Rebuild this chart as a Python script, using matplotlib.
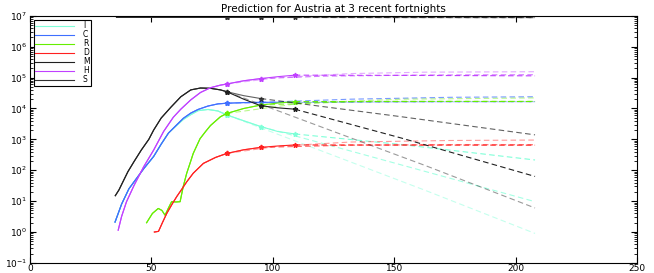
import numpy as np
import matplotlib
matplotlib.use('Agg')
import matplotlib.pyplot as plt

plt.rcParams['font.family'] = ['DejaVu Sans']

# fortnight ends of the three fits
fortnights = [81, 95, 109]
fit_alpha = [0.45, 0.7, 1.0]

# I - infected
i_days = [35.0, 37.7, 40.7, 42.8, 46.8, 50.9, 54.0, 57.0, 60.1, 63.1, 66.2, 69.2, 73.3, 77.4, 81, 88, 95, 102, 109]
i_vals = [2.1, 8, 25, 42, 112, 280, 700, 1600, 2700, 4400, 6300, 8500, 9300, 8300, 6200, 4000, 2600, 1800, 1500]
i_pred = [([81, 122, 163, 208], [6200, 370, 22, 0.9]),
          ([95, 132, 173, 208], [2600, 420, 55, 9.6]),
          ([109, 153, 208], [1500, 680, 215])]

# C
c_days = [35.0, 37.7, 40.7, 42.8, 46.8, 50.9, 54.0, 57.0, 60.1, 63.1, 66.2, 69.2, 73.3, 77.4, 81, 88, 95, 102, 109]
c_vals = [2.1, 8, 25, 42, 112, 280, 700, 1600, 2800, 4800, 7100, 9300, 12000, 14100, 14800, 15500, 15800, 15900, 15900]
c_pred = [([81, 122, 163, 208], [14800, 16000, 16500, 16600]),
          ([95, 132, 173, 208], [15800, 20000, 23000, 24000]),
          ([109, 153, 208], [15900, 16500, 16700])]

# R
r_days = [48.0, 50.4, 52.8, 54.3, 55.6, 57.0, 58.3, 60.1, 61.8, 63.1, 64.5, 66.2, 67.2, 70.0, 72.3, 74.3, 78.4, 81, 88, 95, 102, 109]
r_vals = [2, 4, 5.8, 5, 3.5, 6, 9.6, 9.4, 9.6, 30, 79, 200, 350, 1050, 1800, 2800, 5400, 6900, 10000, 12900, 15000, 16600]
r_pred = [([81, 112, 153, 208], [6900, 15000, 20000, 22000]),
          ([95, 132, 173, 208], [12900, 16500, 17000, 17000]),
          ([109, 153, 208], [16600, 17000, 16800])]

# D
d_days = [51.2, 52.9, 54.5, 56.3, 58.5, 60.4, 62.6, 64.5, 67.2, 71.4, 76.4, 81, 88, 95, 102, 109]
d_vals = [1, 1.05, 2, 4, 8, 14, 25, 42, 80, 167, 260, 350, 460, 550, 610, 660]
d_pred = [([81, 102, 132, 173, 208], [350, 600, 820, 920, 950]),
          ([95, 132, 173, 208], [550, 650, 670, 670]),
          ([109, 153, 208], [660, 655, 650])]

# M
m_days = [35.1, 36.6, 38.7, 40.3, 42.8, 45.8, 48.9, 50.9, 54.0, 58.0, 62.1, 66.2, 70.2, 74.3, 78.4, 81, 88, 95, 102, 109]
m_vals = [15, 23, 50, 90, 190, 450, 1000, 2000, 4900, 11000, 24000, 40000, 46000, 45000, 40000, 35000, 20000, 12300, 10500, 9500]
m_fit2_days = [81, 88, 95]
m_fit2_vals = [35000, 26000, 21000]
m_pred = [([81, 122, 163, 208], [35000, 2200, 140, 6]),
          ([95, 153, 208], [21000, 5400, 1400]),
          ([109, 153, 208], [9500, 1100, 63])]

# H
h_days = [36.3, 37.7, 39.7, 42.8, 46.8, 50.9, 55.0, 59.0, 62.1, 66.2, 70.2, 74.3, 78.4, 81, 88, 95, 102, 109]
h_vals = [1.15, 3.2, 9.5, 32, 130, 450, 1800, 5200, 9500, 19000, 33000, 47000, 57000, 62000, 79000, 93000, 107000, 120000]
h_pred = [([81, 102, 132, 163, 208], [62000, 100000, 135000, 150000, 155000]),
          ([95, 122, 163, 208], [93000, 112000, 121000, 124000]),
          ([109, 153, 208], [120000, 118000, 114000])]

# S
s_days = [35.6, 61, 81, 95, 109]
s_vals = [8.9e6, 8.9e6, 8.88e6, 8.86e6, 8.85e6]
s_pred = [([81, 208], [8.88e6, 8.75e6]),
          ([95, 208], [8.86e6, 8.78e6]),
          ([109, 208], [8.85e6, 8.8e6])]

series = [
    ('I', '#7fffd8', i_days, i_vals, i_pred),
    ('C', '#3f6fff', c_days, c_vals, c_pred),
    ('R', '#66ee00', r_days, r_vals, r_pred),
    ('D', '#ff2020', d_days, d_vals, d_pred),
    ('M', '#202020', m_days, m_vals, m_pred),
    ('H', '#c040ff', h_days, h_vals, h_pred),
    ('S', '#303030', s_days, s_vals, s_pred),
]

fig = plt.figure(figsize=(6.54, 2.73), dpi=100)
ax = fig.add_axes([0.046, 0.037, 0.928, 0.905])
ax.set_yscale('log')

handles = []
for name, col, days, vals, pred in series:
    days = np.array(days)
    vals = np.array(vals)
    for k, end in enumerate(fortnights):
        a = fit_alpha[k]
        keep = days <= end
        xs, ys = days[keep], vals[keep]
        if name == 'M' and k == 1:
            keep = days <= fortnights[0]
            xs = np.concatenate([days[keep], m_fit2_days[1:]])
            ys = np.concatenate([vals[keep], m_fit2_vals[1:]])
        line, = ax.plot(xs, ys, color=col, lw=0.8, alpha=a)
        mk = np.isin(xs, fortnights)
        ax.plot(xs[mk], ys[mk], '*', color=col, ms=3.5, alpha=a)
        ax.plot(pred[k][0], pred[k][1], color=col, lw=0.8, alpha=a,
                linestyle=(0, (5, 3)))
        if k == 2:
            handles.append(line)

ax.set_xlim(0, 250)
ax.set_ylim(1e-1, 1e7)
ax.set_xticks([0, 50, 100, 150, 200, 250])
ax.set_yticks([10.0 ** p for p in range(-1, 8)])
ax.tick_params(which='both', direction='in', top=True, right=True, labelsize=6.5)
ax.tick_params(which='major', length=4)
ax.tick_params(which='minor', length=2)
ax.tick_params(axis='x', which='minor', bottom=False, top=False)
ax.tick_params(axis='x', which='major', pad=1)
ax.tick_params(axis='y', which='major', pad=2)
for sp in ax.spines.values():
    sp.set_linewidth(0.8)

ax.set_title('Prediction for Austria at 3 recent fortnights', fontsize=7.5, pad=3)

leg = ax.legend(handles, [s[0] for s in series], loc='upper left', fontsize=5.5,
                labelspacing=0.0, handlelength=5.0, handletextpad=1.2,
                borderpad=0.2, borderaxespad=0.5, fancybox=False, framealpha=1)
leg.get_frame().set_edgecolor('black')
leg.get_frame().set_linewidth(0.8)

fig.savefig('out.png', dpi=100)
